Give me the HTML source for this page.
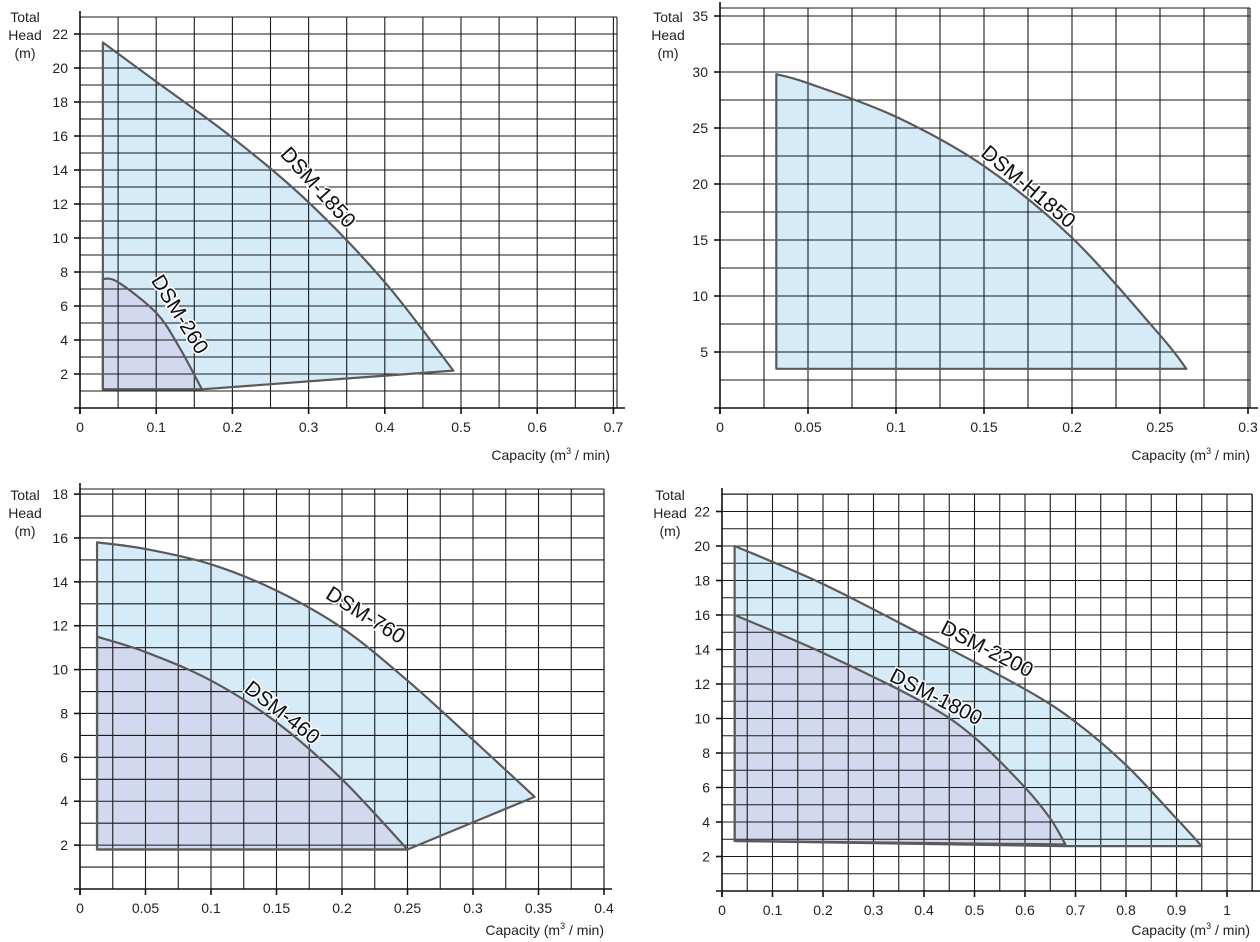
<!DOCTYPE html>
<html><head><meta charset="utf-8"><style>
body{margin:0;background:#fff}
svg{display:block;font-family:"Liberation Sans",sans-serif}
</style></head><body>
<svg id="svg" width="1260" height="942" viewBox="0 0 1260 942"></svg>
<script>
// ---- Chart 1 data (DSM-1850, DSM-260)
const c1xTicks=[0,0.1,0.2,0.3,0.4,0.5,0.6,0.7];
const c1yTicks=[2,4,6,8,10,12,14,16,18,20,22];
const c1_1850_q=[0.03,0.1,0.2,0.3,0.4,0.49];
const c1_1850_h=[21.5,19.2,15.9,12.1,7.4,2.2];
const c1_260_q=[0.03,0.05,0.1,0.13,0.16];
const c1_260_h=[7.6,7.4,5.6,3.6,1.1];
const c1_base=[1.1,1.1];
// ---- Chart 2 data (DSM-H1850)
const c2xTicks=[0,0.05,0.1,0.15,0.2,0.25,0.3];
const c2yTicks=[5,10,15,20,25,30,35];
const c2_h1850_q=[0.032,0.05,0.1,0.15,0.2,0.25,0.265];
const c2_h1850_h=[29.8,29.0,26.0,21.6,15.2,6.5,3.5];
const c2_base=[3.5,3.5];
// ---- Chart 3 data (DSM-760, DSM-460)
const c3xTicks=[0,0.05,0.1,0.15,0.2,0.25,0.3,0.35,0.4];
const c3yTicks=[2,4,6,8,10,12,14,16,18];
const c3_760_q=[0.013,0.05,0.1,0.15,0.2,0.25,0.3,0.347];
const c3_760_h=[15.8,15.5,14.8,13.6,11.9,9.5,6.8,4.2];
const c3_460_q=[0.013,0.05,0.1,0.15,0.2,0.25];
const c3_460_h=[11.5,10.8,9.5,7.6,5,1.8];
const c3_base=[1.8,1.8];
// ---- Chart 4 data (DSM-2200, DSM-1800)
const c4xTicks=[0,0.1,0.2,0.3,0.4,0.5,0.6,0.7,0.8,0.9,1];
const c4xLabels=["0","0.1","0.2","0.3","0.4","0.5","0.6","0.7","0.8","0.9","1"];
const c4yTicks=[2,4,6,8,10,12,14,16,18,20,22];
const c4_2200_q=[0.025,0.2,0.4,0.6,0.7,0.8,0.9,0.95];
const c4_2200_h=[20,17.8,14.8,11.7,9.8,7.3,4.2,2.6];
const c4_1800_q=[0.025,0.2,0.4,0.5,0.6,0.65,0.68];
const c4_1800_h=[16,13.8,10.9,8.9,6,4.2,2.7];
const c4_base=[2.9,2.6];

const NS="http://www.w3.org/2000/svg";
const svg=document.getElementById('svg');
function mk(tag,attrs,parent){const e=document.createElementNS(NS,tag);for(const k in attrs)e.setAttribute(k,attrs[k]);(parent||svg).appendChild(e);return e;}
function smooth(pts){let d=`M${pts[0][0]},${pts[0][1]}`;for(let i=0;i<pts.length-1;i++){const p0=pts[Math.max(0,i-1)],p1=pts[i],p2=pts[i+1],p3=pts[Math.min(pts.length-1,i+2)];const c1=[p1[0]+(p2[0]-p0[0])/6,p1[1]+(p2[1]-p0[1])/6],c2=[p2[0]-(p3[0]-p1[0])/6,p2[1]-(p3[1]-p1[1])/6];d+=` C${c1[0]},${c1[1]} ${c2[0]},${c2[1]} ${p2[0]},${p2[1]}`;}return d;}

function chart(cfg){
  const g=mk('g',{});
  
  
  const X=v=>cfg.x0+v*cfg.xs, Y=v=>cfg.y0-v*cfg.ys;
  const top=cfg.top,right=cfg.right;
  cfg.series.forEach(s=>{
    const pts=s.q.map((q,i)=>[X(q),Y(s.h[i])]);
    let d=smooth(pts);
    if(s.via) d+=` L${X(s.via[0])},${Y(s.via[1])}`;
    d+=` L${X(s.q[0])},${Y(s.base)} Z`;
    const p=mk('path',{d:d,fill:s.fill,stroke:'none'},g);
    
    
  });
  const gg=mk('g',{stroke:'#1a1a1a','stroke-width':1.1},g);
  
  
  for(let v=cfg.xStep;X(v)<=right+0.5;v+=cfg.xStep){mk('line',{x1:X(v),x2:X(v),y1:top,y2:cfg.y0},gg);}
  for(let v=cfg.yStep;Y(v)>=top-0.5;v+=cfg.yStep){mk('line',{x1:cfg.x0,x2:right,y1:Y(v),y2:Y(v)},gg);}
  mk('line',{x1:cfg.x0,x2:right,y1:top,y2:top},gg);
  mk('line',{x1:right,x2:right,y1:top,y2:cfg.y0},gg);
  cfg.series.forEach(s=>{
    const pts=s.q.map((q,i)=>[X(q),Y(s.h[i])]);
    let d=smooth(pts);
    if(s.via) d+=` L${X(s.via[0])},${Y(s.via[1])}`;
    d+=` L${X(s.q[0])},${Y(s.base)} Z`;
    const p=mk('path',{d:d,fill:'none',stroke:'#5a5a5a','stroke-width':2.2,'stroke-linejoin':'round'},g);
    
    
    const t=mk('text',{x:s.lx,y:s.ly,transform:`rotate(${s.rot} ${s.lx} ${s.ly})`,'font-size':21,'text-anchor':'middle',fill:'#111',stroke:'#fff','stroke-width':3,'paint-order':'stroke'},g);
    t.textContent=s.id;
    
    
  });
  const ax=mk('g',{stroke:'#111','stroke-width':1.6},g);
  
  
  mk('line',{x1:cfg.x0,x2:cfg.x0,y1:top-6,y2:cfg.y0+6},ax);
  mk('line',{x1:cfg.x0-6,x2:right+8,y1:cfg.y0,y2:cfg.y0},ax);
  cfg.yTicks.forEach(v=>{
    mk('line',{x1:cfg.x0-6,x2:cfg.x0,y1:Y(v),y2:Y(v)},ax);
    const t=mk('text',{x:cfg.x0-12,y:Y(v)+5,'font-size':14,'text-anchor':'end',fill:'#222'},g);
    t.textContent=String(v);
    
    
  });
  cfg.xTicks.forEach((v,i)=>{
    mk('line',{x1:X(v),x2:X(v),y1:cfg.y0,y2:cfg.y0+6},ax);
    const t=mk('text',{x:X(v),y:cfg.y0+24,'font-size':14,'text-anchor':'middle',fill:'#222'},g);
    t.textContent=cfg.xLabels?cfg.xLabels[i]:String(v);
    
    
  });
  const yt=mk('text',{'font-size':14,'text-anchor':'middle',fill:'#222'},g);
  
  
  ['Total','Head','(m)'].forEach((s,i)=>{const ts=mk('tspan',{x:cfg.tx,y:cfg.ty+i*18},yt);ts.textContent=s;});
  const xt=mk('text',{x:cfg.capX,y:cfg.y0+cfg.capDy,'font-size':14,'text-anchor':'end',fill:'#222'},g);
  xt.innerHTML='Capacity (m<tspan font-size="9" dy="-6">3</tspan><tspan dy="6"> / min)</tspan>';
  
  
}
const BLUE='#d5ecf8', LAV='#d2d8ee';
chart({name:'chart-dsm-1850-260',x0:80,xs:762,y0:408,ys:17,top:17,right:617,xStep:0.05,yStep:1,xTicks:c1xTicks,yTicks:c1yTicks,tx:25,ty:22,capX:610,capDy:52,
  series:[{id:'DSM-1850',q:c1_1850_q,h:c1_1850_h,base:c1_base[0],via:[0.16,c1_base[1]],fill:BLUE,lx:313,ly:192,rot:48},
          {id:'DSM-260',q:c1_260_q,h:c1_260_h,base:c1_base[0],fill:LAV,lx:174,ly:318,rot:58}]});
chart({name:'chart-dsm-h1850',x0:720,xs:1760,y0:408,ys:11.2,top:8,right:1250,xStep:0.025,yStep:2.5,xTicks:c2xTicks,yTicks:c2yTicks,tx:668,ty:22,capX:1250,capDy:52,
  series:[{id:'DSM-H1850',q:c2_h1850_q,h:c2_h1850_h,base:c2_base[0],fill:BLUE,lx:1024,ly:192,rot:40}]});
chart({name:'chart-dsm-760-460',x0:80,xs:1310,y0:889,ys:21.94,top:489,right:604,xStep:0.025,yStep:1,xTicks:c3xTicks,yTicks:c3yTicks,tx:25,ty:500,capX:604,capDy:46,
  series:[{id:'DSM-760',q:c3_760_q,h:c3_760_h,base:c3_base[0],via:[0.25,c3_base[1]],fill:BLUE,lx:362,ly:621,rot:32},
          {id:'DSM-460',q:c3_460_q,h:c3_460_h,base:c3_base[0],fill:LAV,lx:278,ly:718,rot:38}]});
chart({name:'chart-dsm-2200-1800',x0:722,xs:505,y0:891,ys:17.25,top:494,right:1252,xStep:0.05,yStep:1,xTicks:c4xTicks,xLabels:c4xLabels,yTicks:c4yTicks,tx:670,ty:500,capX:1250,capDy:44,
  series:[{id:'DSM-2200',q:c4_2200_q,h:c4_2200_h,base:c4_base[0],via:[0.68,c4_base[1]],fill:BLUE,lx:984,ly:655,rot:27},
          {id:'DSM-1800',q:c4_1800_q,h:c4_1800_h,base:c4_base[0],fill:LAV,lx:933,ly:703,rot:27}]});
</script>
</body></html>
